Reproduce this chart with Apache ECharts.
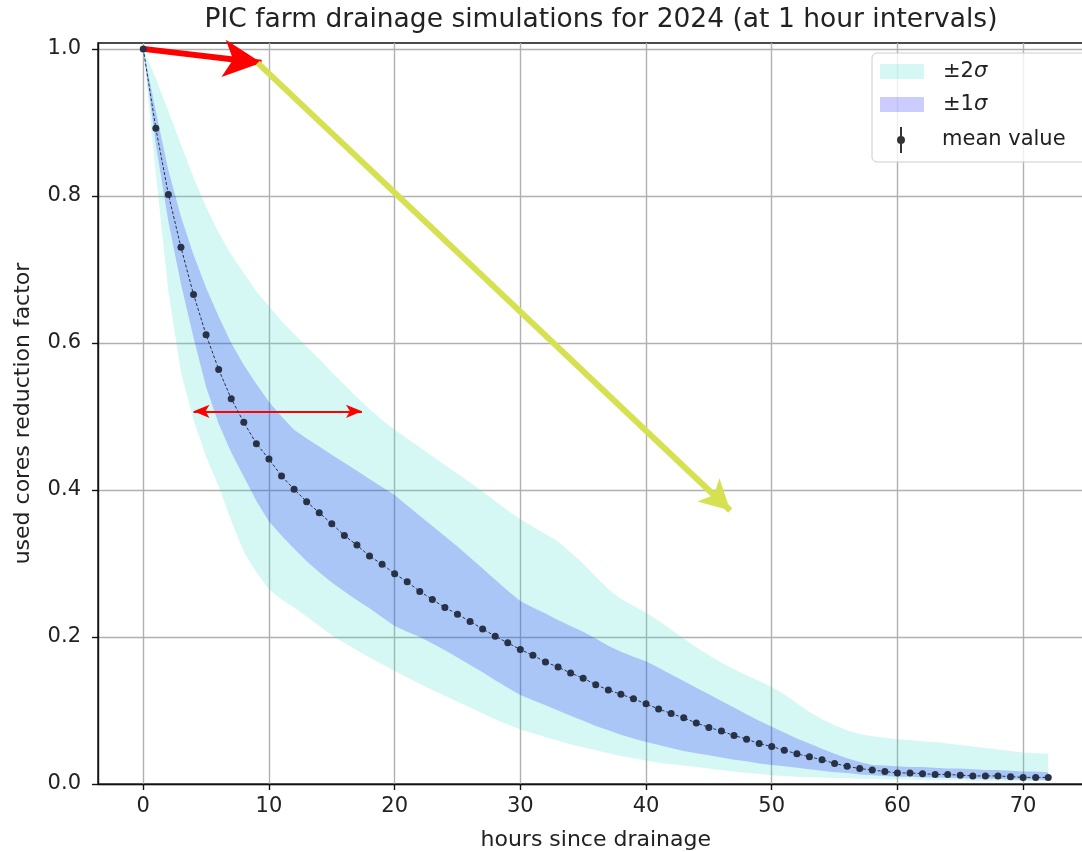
<!DOCTYPE html>
<html><head><meta charset="utf-8">
<script src="https://cdn.jsdelivr.net/npm/echarts@6/dist/echarts.min.js"></script>
<style>html,body{margin:0;padding:0;background:#fff}#c{width:1082px;height:852px}</style>
</head><body><div id="c"></div>
<script>
// ---- data ----
const hours = [0,1,2,3,4,5,6,7,8,9,10,11,12,13,14,15,16,17,18,19,20,21,22,23,24,25,26,27,28,29,30,31,32,33,34,35,36,37,38,39,40,41,42,43,44,45,46,47,48,49,50,51,52,53,54,55,56,57,58,59,60,61,62,63,64,65,66,67,68,69,70,71,72];
const meanValue = [1.000,0.892,0.802,0.730,0.666,0.611,0.564,0.524,0.492,0.463,
  0.442,0.419,0.401,0.384,0.369,0.354,0.338,0.325,0.310,0.299,
  0.286,0.275,0.262,0.251,0.240,0.231,0.221,0.211,0.201,0.192,
  0.183,0.175,0.166,0.159,0.151,0.144,0.135,0.128,0.122,0.116,
  0.109,0.102,0.096,0.090,0.083,0.077,0.072,0.066,0.061,0.055,
  0.051,0.046,0.041,0.037,0.033,0.028,0.024,0.021,0.019,0.017,
  0.015,0.015,0.014,0.013,0.013,0.012,0.011,0.011,0.011,0.010,
  0.009,0.009,0.009];
const upper2s = [1.000,0.960,0.915,0.870,0.825,0.785,0.750,0.720,0.695,0.670,
  0.650,0.630,0.612,0.595,0.578,0.560,0.543,0.526,0.510,0.495,
  0.482,0.470,0.458,0.446,0.434,0.422,0.410,0.398,0.385,0.372,
  0.360,0.350,0.340,0.330,0.315,0.300,0.282,0.265,0.252,0.242,
  0.233,0.222,0.210,0.198,0.186,0.175,0.165,0.156,0.148,0.140,
  0.132,0.122,0.110,0.098,0.088,0.080,0.073,0.068,0.065,0.063,
  0.061,0.060,0.058,0.057,0.055,0.053,0.051,0.049,0.047,0.045,
  0.043,0.042,0.041];
const lower2s = [1.000,0.830,0.670,0.560,0.495,0.445,0.405,0.358,0.316,0.288,
  0.265,0.251,0.240,0.228,0.215,0.202,0.192,0.182,0.172,0.163,
  0.154,0.145,0.136,0.128,0.120,0.112,0.104,0.096,0.088,0.081,
  0.074,0.069,0.064,0.059,0.054,0.050,0.046,0.042,0.038,0.035,
  0.032,0.029,0.027,0.025,0.023,0.021,0.019,0.017,0.015,0.014,
  0.012,0.011,0.010,0.009,0.009,0.008,0.008,0.007,0.007,0.006,
  0.006,0.006,0.005,0.005,0.005,0.005,0.004,0.004,0.004,0.004,
  0.004,0.004,0.004];
const upper1s = [1.000,0.915,0.835,0.772,0.720,0.675,0.636,0.600,0.570,0.544,
  0.520,0.500,0.482,0.470,0.459,0.448,0.437,0.426,0.415,0.404,
  0.393,0.379,0.365,0.351,0.337,0.323,0.308,0.293,0.278,0.263,
  0.249,0.240,0.232,0.223,0.215,0.207,0.198,0.188,0.180,0.173,
  0.167,0.158,0.149,0.140,0.131,0.122,0.113,0.104,0.095,0.086,
  0.078,0.070,0.062,0.055,0.048,0.041,0.035,0.030,0.026,0.025,
  0.024,0.023,0.023,0.022,0.021,0.021,0.020,0.019,0.019,0.018,
  0.017,0.017,0.016];
const lower1s = [1.000,0.870,0.765,0.680,0.607,0.540,0.490,0.451,0.418,0.385,
  0.357,0.338,0.320,0.303,0.288,0.274,0.262,0.250,0.239,0.227,
  0.215,0.207,0.200,0.191,0.182,0.172,0.162,0.152,0.141,0.131,
  0.121,0.114,0.107,0.100,0.093,0.086,0.079,0.073,0.067,0.062,
  0.057,0.053,0.049,0.045,0.042,0.039,0.036,0.033,0.031,0.028,
  0.026,0.024,0.022,0.020,0.018,0.016,0.015,0.013,0.012,0.011,
  0.010,0.010,0.009,0.009,0.008,0.008,0.007,0.007,0.007,0.006,
  0.006,0.006,0.005];
const xTicks = [0,10,20,30,40,50,60,70];
const yTicks = [0,0.2,0.4,0.6,0.8,1.0];
// annotation arrows drawn on the original picture (data units)
const redArrow = [[0,1.0],[9.4,0.981]];
const yellowArrow = [[9.1,0.981],[46.7,0.372]];
const redDoubleArrow = [[4.0,0.507],[17.4,0.507]];

// ---- chart ----
const FONT = 'DejaVu Sans';
const CYAN = 'rgba(64,224,208,0.22)';
const BLUE = 'rgba(0,0,255,0.2)';
const pair = (ys) => hours.map((h,i)=>[h, ys[i]]);

function bandSeries(name, upper, lower, color, z){
  return {
    name:name, type:'custom', z:z, silent:true,
    data:[[0]],
    encode:{x:0, y:0},
    itemStyle:{color:color},
    renderItem:function(params, api){
      const pts = [];
      for (let i=0;i<hours.length;i++) pts.push(api.coord([hours[i], upper[i]]));
      for (let i=hours.length-1;i>=0;i--) pts.push(api.coord([hours[i], lower[i]]));
      return {type:'polygon', shape:{points:pts}, style:{fill:color, stroke:null}};
    }
  };
}

const chart = echarts.init(document.getElementById('c'), null, {renderer:'canvas'});
const rich = {i:{fontStyle:'italic', fontSize:21, fontFamily:FONT, color:'#222'}};
chart.setOption({
  animation:false,
  backgroundColor:'#fff',
  title:{text:'PIC farm drainage simulations for 2024 (at 1 hour intervals)', left:596, textAlign:'center', top:2,
    textStyle:{fontFamily:FONT, fontSize:26.5, fontWeight:'normal', color:'#222'}},
  grid:{left:98, top:43, right:-11.5, bottom:68, outerBoundsMode:'none', containLabel:false,
    show:true, borderColor:'#111', borderWidth:1.4, backgroundColor:'transparent'},
  xAxis:{type:'value', min:-3.6, max:75.6,
    name:'hours since drainage', nameLocation:'middle', nameGap:45,
    nameTextStyle:{fontFamily:FONT, fontSize:22, color:'#222'},
    axisLine:{show:true, onZero:false, lineStyle:{color:'#111', width:1.4}},
    axisTick:{show:true, length:6, customValues:xTicks, lineStyle:{color:'#111', width:1.4}},
    axisLabel:{customValues:xTicks, fontFamily:FONT, fontSize:21, color:'#222', margin:12},
    splitLine:{show:true, lineStyle:{color:'#b0b0b0', width:1.4}}},
  yAxis:{type:'value', min:0, max:1.008,
    name:'used cores reduction factor', nameLocation:'middle', nameGap:64, nameRotate:90,
    nameTextStyle:{fontFamily:FONT, fontSize:22, color:'#222'},
    axisLine:{show:true, onZero:false, lineStyle:{color:'#111', width:1.4}},
    axisTick:{show:true, length:6, customValues:yTicks, lineStyle:{color:'#111', width:1.4}},
    axisLabel:{customValues:yTicks, formatter:(v)=>v.toFixed(1), fontFamily:FONT, fontSize:21, color:'#222', margin:17},
    splitLine:{show:true, lineStyle:{color:'#b0b0b0', width:1.4}}},
  legend:[
    {data:[{name:'±2σ', icon:'rect', itemStyle:{color:CYAN, borderWidth:0}},
           {name:'±1σ', icon:'rect', itemStyle:{color:BLUE, borderWidth:0}}],
     orient:'vertical', left:875, top:56, itemWidth:44, itemHeight:15, itemGap:12, selectedMode:false, z:60,
     formatter:(n)=>n.replace('σ','{i|σ}'),
     textStyle:{fontFamily:FONT, fontSize:21, color:'#222', padding:[0,0,0,14], rich:rich}},
    {data:[{name:'mean value', icon:'path://M3,0L5,0L5,26L3,26ZM4,9A4,4 0 1 1 3.99,9Z', itemStyle:{color:'#333', borderWidth:0}}],
     orient:'vertical', left:892, top:122, itemWidth:10, itemHeight:26, symbolKeepAspect:true, selectedMode:false, z:60,
     textStyle:{fontFamily:FONT, fontSize:21, color:'#222', padding:[4,0,0,31]}}
  ],
  graphic:[{type:'rect', z:50, shape:{x:872, y:53, width:240, height:109, r:5},
    style:{fill:'rgba(255,255,255,0.8)', stroke:'#cccccc', lineWidth:1}}],
  series:[
    bandSeries('±2σ', upper2s, lower2s, CYAN, 2),
    bandSeries('±1σ', upper1s, lower1s, BLUE, 3),
    {name:'mean value', type:'line', data:pair(meanValue), symbol:'circle', symbolSize:7,
     itemStyle:{color:'#283146'}, lineStyle:{color:'#283146', width:1, type:[3,2]}, z:5, silent:true,
     markLine:{silent:true, label:{show:false}, animation:false,
       data:[
         [{coord:redArrow[0], symbol:'none', lineStyle:{color:'#ff0000', width:6, type:'solid'}},
          {coord:redArrow[1], symbol:'arrow', symbolSize:[28,38]}],
         [{coord:yellowArrow[0], symbol:'none', lineStyle:{color:'#d6e152', width:6, type:'solid'}},
          {coord:yellowArrow[1], symbol:'arrow', symbolSize:[24,30]}],
         [{coord:redDoubleArrow[0], symbol:'arrow', symbolSize:[10,16], lineStyle:{color:'#ff0000', width:2, type:'solid'}},
          {coord:redDoubleArrow[1], symbol:'arrow', symbolSize:[10,16]}]
       ]}}
  ]
});
</script></body></html>
